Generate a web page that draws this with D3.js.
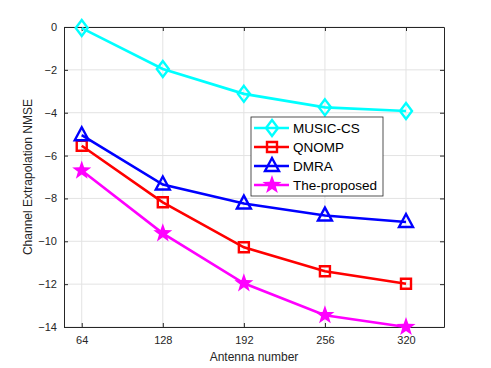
<!DOCTYPE html>
<html>
<head>
<meta charset="utf-8">
<script src="https://cdn.jsdelivr.net/npm/d3@7"></script>
<style>
body { margin: 0; background: #fff; }
text { font-family: "Liberation Sans", Arial, sans-serif; }
</style>
</head>
<body>
<div id="main"></div>
<script>
var WIDTH = 491
var HEIGHT = 368

// data
var antennas = [64, 128, 192, 256, 320]
var musicCS = [-0.05, -1.96, -3.12, -3.75, -3.92]
var qnomp = [-5.54, -8.18, -10.28, -11.4, -11.98]
var dmra = [-5.05, -7.35, -8.24, -8.8, -9.1]
var proposed = [-6.7, -9.63, -11.96, -13.45, -14.0]
var yTicks = [0, -2, -4, -6, -8, -10, -12, -14]
var names = ['MUSIC-CS', 'QNOMP', 'DMRA', 'The-proposed']

var series = [
    { name: names[0], values: musicCS, color: '#00ffff', marker: 'diamond' },
    { name: names[1], values: qnomp, color: '#ff0000', marker: 'square' },
    { name: names[2], values: dmra, color: '#0000ff', marker: 'triangle' },
    { name: names[3], values: proposed, color: '#ff00ff', marker: 'star' }
]

var pL = 64, pR = 444, pT = 27, pB = 327

var x = d3.scaleLinear().domain([50, 350]).range([pL, pR])
var y = d3.scaleLinear().domain([-14, 0]).range([pB, pT])

const svg = d3.select('#main').append('svg')
    .attr('width', WIDTH)
    .attr('height', HEIGHT)

// grid
svg.append('g').selectAll('line')
    .data(antennas).enter().append('line')
    .attr('x1', d => x(d)).attr('x2', d => x(d))
    .attr('y1', pT).attr('y2', pB)
    .attr('stroke', '#e3e3e3').attr('stroke-width', 1)
svg.append('g').selectAll('line')
    .data(yTicks).enter().append('line')
    .attr('x1', pL).attr('x2', pR)
    .attr('y1', d => y(d)).attr('y2', d => y(d))
    .attr('stroke', '#e3e3e3').attr('stroke-width', 1)

// axes (ticks pointing inward, box around)
svg.append('g')
    .attr('transform', 'translate(0,' + pB + ')')
    .call(d3.axisBottom(x).tickValues(antennas).tickSizeInner(-4).tickSizeOuter(0).tickPadding(9))
svg.append('g')
    .attr('transform', 'translate(' + pL + ',0)')
    .call(d3.axisLeft(y).tickValues(yTicks).tickSizeInner(-4).tickSizeOuter(0).tickPadding(7))
svg.append('g')
    .attr('transform', 'translate(0,' + pT + ')')
    .call(d3.axisTop(x).tickValues(antennas).tickSizeInner(-4).tickSizeOuter(0).tickFormat(''))
svg.append('g')
    .attr('transform', 'translate(' + pR + ',0)')
    .call(d3.axisRight(y).tickValues(yTicks).tickSizeInner(-4).tickSizeOuter(0).tickFormat(''))
svg.selectAll('.domain').attr('stroke', '#262626')
svg.selectAll('.tick line').attr('stroke', '#262626')
svg.selectAll('.tick text').attr('fill', '#262626').style('font-size', '11px')
    .style('font-family', '"Liberation Sans", Arial, sans-serif')

svg.append('text')
    .attr('x', (pL + pR) / 2).attr('y', 361)
    .attr('text-anchor', 'middle').attr('fill', '#262626')
    .style('font-size', '12px')
    .text('Antenna number')
svg.append('text')
    .attr('transform', 'translate(32,' + (pT + pB) / 2 + ') rotate(-90)')
    .attr('text-anchor', 'middle').attr('fill', '#262626')
    .style('font-size', '12px')
    .text('Channel Extrapolation NMSE')

function markerPath(type) {
    if (type === 'diamond') return 'M0,-8L6,0L0,8L-6,0Z'
    if (type === 'square') return 'M-5,-5L5,-5L5,5L-5,5Z'
    if (type === 'triangle') return 'M0,-8L7,5L-7,5Z'
    // star
    var p = ''
    for (var i = 0; i < 10; i++) {
        var r = i % 2 === 0 ? 10 : 4
        var a = -Math.PI / 2 + i * Math.PI / 5
        p += (i === 0 ? 'M' : 'L') + (r * Math.cos(a)).toFixed(2) + ',' + (r * Math.sin(a)).toFixed(2)
    }
    return p + 'Z'
}

var line = d3.line()
    .x((d, i) => x(antennas[i]))
    .y(d => y(d))

series.forEach(s => {
    svg.append('path')
        .attr('d', line(s.values))
        .attr('fill', 'none')
        .attr('stroke', s.color)
        .attr('stroke-width', 2.6)
    svg.append('g').selectAll('path')
        .data(s.values).enter().append('path')
        .attr('transform', (d, i) => 'translate(' + x(antennas[i]) + ',' + y(d) + ')')
        .attr('d', markerPath(s.marker))
        .attr('fill', s.marker === 'star' ? s.color : 'none')
        .attr('stroke', s.color)
        .attr('stroke-width', s.marker === 'star' ? 0 : 2.4)
})

// legend
var lg = svg.append('g')
lg.append('rect')
    .attr('x', 251).attr('y', 117).attr('width', 132).attr('height', 79)
    .attr('fill', '#fff').attr('stroke', '#262626').attr('stroke-width', 0.8)
series.forEach((s, i) => {
    var yy = 128 + i * 19
    lg.append('line')
        .attr('x1', 254).attr('x2', 289).attr('y1', yy).attr('y2', yy)
        .attr('stroke', s.color).attr('stroke-width', 2.6)
    lg.append('path')
        .attr('transform', 'translate(272,' + yy + ')')
        .attr('d', markerPath(s.marker))
        .attr('fill', s.marker === 'star' ? s.color : 'none')
        .attr('stroke', s.color)
        .attr('stroke-width', s.marker === 'star' ? 0 : 2.4)
    lg.append('text')
        .attr('x', 293).attr('y', yy + 5)
        .attr('fill', '#000')
        .style('font-size', '13.5px')
        .text(s.name)
})
</script>
</body>
</html>
